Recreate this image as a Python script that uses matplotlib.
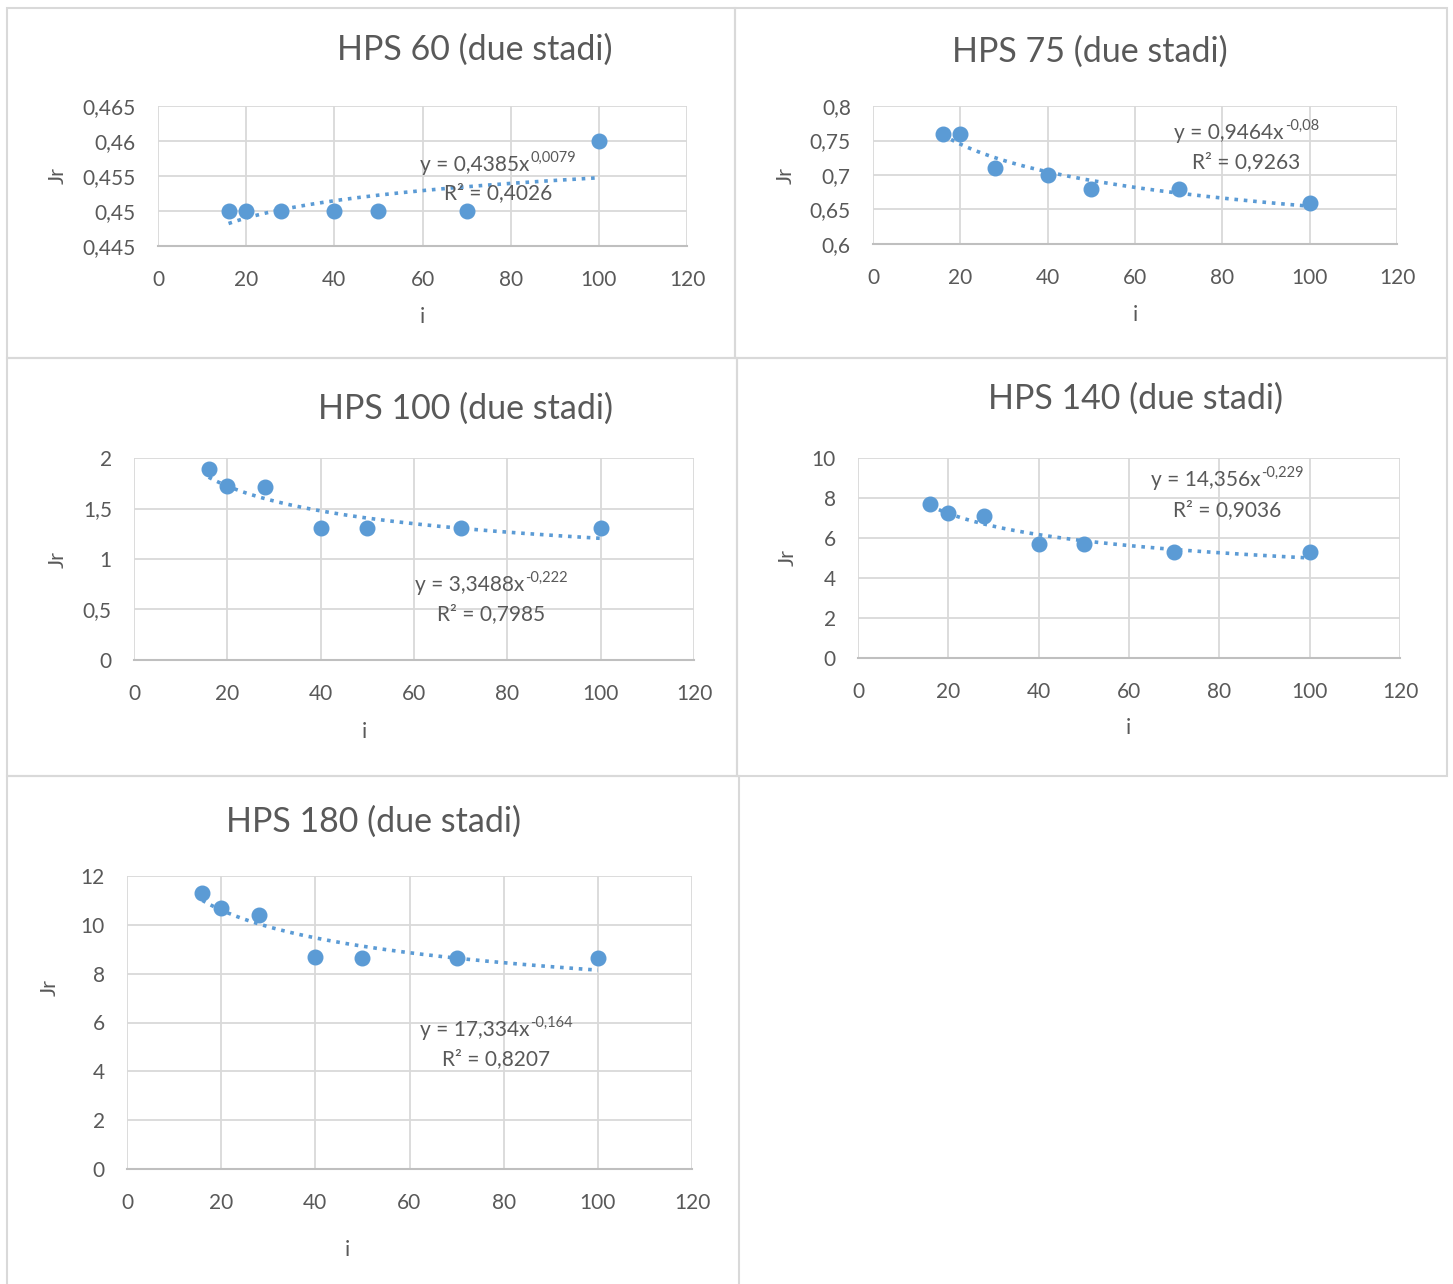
import numpy as np
import matplotlib.pyplot as plt
from matplotlib.patches import Rectangle

plt.rcParams['font.family'] = ['Lato', 'DejaVu Sans']

W, H = 1453, 1284
TXT = "#595959"
BLUE = "#5b9bd5"
GRID = "#d9d9d9"

# portata i e Jr per ogni pompa
i_vals = [16, 20, 28, 40, 50, 70, 100]
jr_hps60 = [0.45, 0.45, 0.45, 0.45, 0.45, 0.45, 0.46]
jr_hps75 = [0.76, 0.76, 0.71, 0.70, 0.68, 0.68, 0.66]
jr_hps100 = [1.89, 1.72, 1.71, 1.31, 1.31, 1.31, 1.31]
jr_hps140 = [7.7, 7.25, 7.1, 5.7, 5.7, 5.3, 5.3]
jr_hps180 = [11.3, 10.7, 10.4, 8.7, 8.65, 8.65, 8.65]

titles = ["HPS 60 (due stadi)", "HPS 75 (due stadi)", "HPS 100 (due stadi)",
          "HPS 140 (due stadi)", "HPS 180 (due stadi)"]
series = [jr_hps60, jr_hps75, jr_hps100, jr_hps140, jr_hps180]

# trendline di potenza y = a * x^b
coef_a = [0.4385, 0.9464, 3.3488, 14.356, 17.334]
coef_b = [0.0079, -0.08, -0.222, -0.229, -0.164]
eq_a = ["0,4385", "0,9464", "3,3488", "14,356", "17,334"]
eq_b = ["0,0079", "-0,08", "-0,222", "-0,229", "-0,164"]
r2 = ["0,4026", "0,9263", "0,7985", "0,9036", "0,8207"]

y_ticks = [
    [0.445, 0.45, 0.455, 0.46, 0.465],
    [0.6, 0.65, 0.7, 0.75, 0.8],
    [0, 0.5, 1, 1.5, 2],
    [0, 2, 4, 6, 8, 10],
    [0, 2, 4, 6, 8, 10, 12],
]
y_labels = [
    ["0,445", "0,45", "0,455", "0,46", "0,465"],
    ["0,6", "0,65", "0,7", "0,75", "0,8"],
    ["0", "0,5", "1", "1,5", "2"],
    ["0", "2", "4", "6", "8", "10"],
    ["0", "2", "4", "6", "8", "10", "12"],
]
x_ticks = [0, 20, 40, 60, 80, 100, 120]

# layout in pixel
boxes = [(7, 8, 728, 350), (735, 8, 712, 350), (7, 358, 730, 418),
         (737, 358, 710, 418), (7, 776, 732, 510)]
plots = [(158, 106, 687, 246), (873, 106, 1397, 244), (134, 458, 694, 660),
         (858, 458, 1400, 658), (127, 876, 692, 1169)]
title_pos = [(475, 50), (1090, 52), (465, 409), (1136, 399), (373, 822)]
jr_pos = [(58, 176), (786, 176), (58, 559), (788, 558), (50, 987)]
i_pos = [(422, 317), (1135, 315), (364, 732), (1128, 728), (347, 1250)]
eq_pos = [(498, 165, 193), (1246, 133, 162), (491, 585, 614),
          (1227, 480, 510), (496, 1030, 1059)]


def fx(px):
    return px / W


def fy(py):
    return 1 - py / H


fig = plt.figure(figsize=(W / 100, H / 100), dpi=100)
renderer = fig.canvas.get_renderer()

for k in range(5):
    bx, by, bw, bh = boxes[k]
    fig.add_artist(Rectangle((fx(bx), fy(by + bh)), bw / W, bh / H,
                             transform=fig.transFigure, fill=False,
                             edgecolor=GRID, linewidth=1.5))

    x0, y0, x1, y1 = plots[k]
    ax = fig.add_axes([fx(x0), fy(y1), (x1 - x0) / W, (y1 - y0) / H])
    yt = y_ticks[k]
    ax.set_xlim(0, 120)
    ax.set_ylim(yt[0], yt[-1])
    ax.set_xticks(x_ticks)
    ax.set_xticklabels([str(t) for t in x_ticks])
    ax.set_yticks(yt)
    ax.set_yticklabels(y_labels[k])
    ax.tick_params(length=0, labelsize=15, labelcolor=TXT)
    ax.tick_params(axis='x', pad=17)
    ax.tick_params(axis='y', pad=16)
    ax.grid(True, color=GRID, linewidth=1.3)
    ax.set_axisbelow(True)
    for s in ["top", "right", "left"]:
        ax.spines[s].set_visible(False)
    ax.spines["bottom"].set_color("#bfbfbf")
    ax.spines["bottom"].set_linewidth(1.5)

    xs = np.linspace(i_vals[0], i_vals[-1], 200)
    ax.plot(xs, coef_a[k] * xs ** coef_b[k], linestyle=(0, (1, 1.6)),
            color=BLUE, linewidth=2.6, zorder=2)
    ax.plot(i_vals, series[k], "o", color=BLUE, markersize=10.5,
            clip_on=False, zorder=3)

    tx, ty = title_pos[k]
    fig.text(fx(tx), fy(ty), titles[k], fontsize=24.5, color=TXT,
             ha="center", va="center")
    jx, jy = jr_pos[k]
    fig.text(fx(jx), fy(jy), "Jr", fontsize=15.5, color=TXT, rotation=90,
             ha="center", va="center")
    ix, iy = i_pos[k]
    fig.text(fx(ix), fy(iy), "i", fontsize=15.5, color=TXT,
             ha="center", va="center")

    # equazione: testo base + esponente, centrati insieme
    ex, ey1, ey2 = eq_pos[k]
    base = fig.text(0, 0, "y = " + eq_a[k] + "x", fontsize=15, color=TXT,
                    ha="left", va="center")
    sup = fig.text(0, 0, eq_b[k], fontsize=10.5, color=TXT,
                   ha="left", va="center")
    wb = base.get_window_extent(renderer).width
    ws = sup.get_window_extent(renderer).width
    left = ex - (wb + ws) / 2
    base.set_position((fx(left), fy(ey1)))
    sup.set_position((fx(left + wb + 1), fy(ey1 - 7)))
    fig.text(fx(ex), fy(ey2), "R² = " + r2[k], fontsize=15, color=TXT,
             ha="center", va="center")

fig.savefig("out.png", dpi=100, facecolor="white")
